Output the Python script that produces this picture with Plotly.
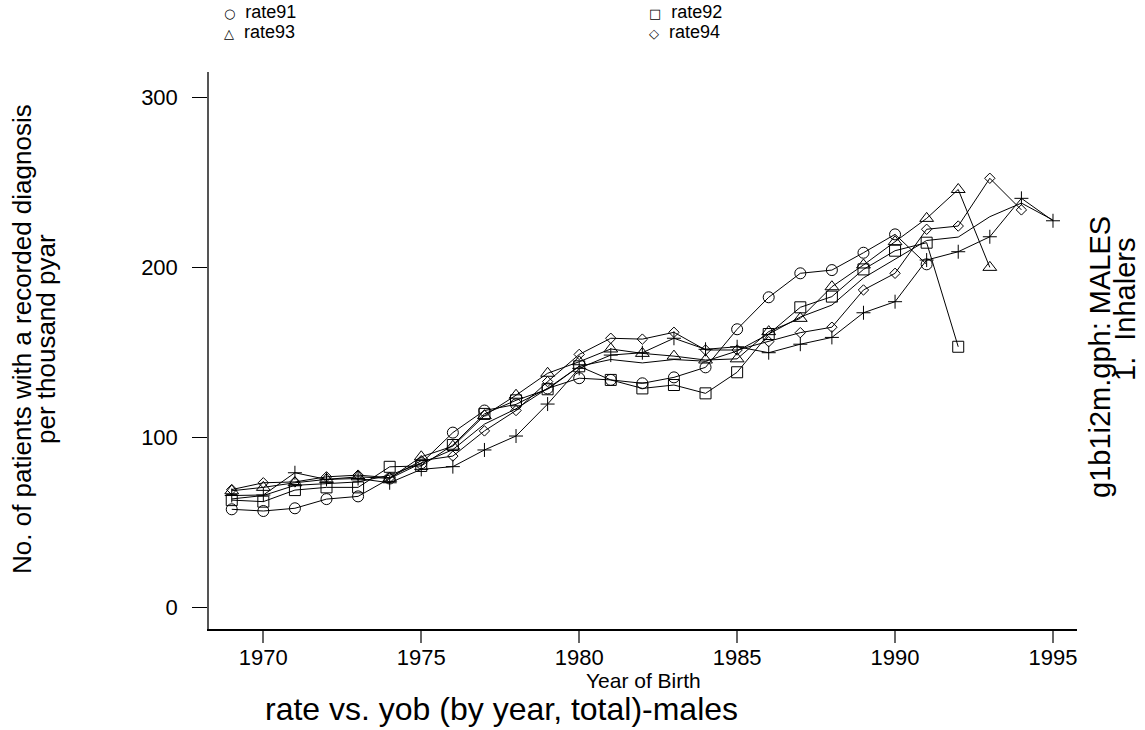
import plotly.graph_objects as go

# ---------------- data ----------------
years = list(range(1969, 1996))
rate91 = [57.9, 56.9, 58.5, 63.9, 65.5, 76.0, 85.0, 103.0, 116.0, 119.6, 129.0, 135.0,
          134.0, 132.0, 135.5, 141.4, 163.8, 182.6, 196.7, 198.6, 208.8, 219.6, 202.0]
rate92 = [63.3, 62.4, 69.2, 70.8, 70.8, 82.9, 83.4, 95.7, 114.0, 122.0, 128.5, 142.0,
          134.0, 129.0, 131.0, 126.1, 138.5, 161.0, 176.7, 183.0, 199.0, 210.0, 214.7, 153.5]
rate93 = [68.8, 70.8, 73.5, 75.5, 77.0, 76.1, 88.8, 95.0, 113.0, 125.0, 137.9, 144.7,
          152.2, 149.6, 148.0, 145.7, 146.4, 162.4, 170.2, 188.8, 201.6, 215.3, 229.0, 246.0, 200.2]
rate94 = [69.5, 73.5, 74.0, 77.0, 78.0, 76.5, 86.5, 89.2, 104.0, 116.0, 133.0, 149.0,
          158.5, 158.0, 162.0, 151.6, 151.6, 156.5, 161.8, 165.0, 186.9, 196.7, 222.6, 224.5, 252.6, 234.0]
rate95 = [66.0, 66.3, 79.4, 75.5, 76.0, 73.5, 81.4, 83.0, 92.8, 101.0, 119.8, 140.8,
          148.6, 150.0, 158.5, 152.0, 153.5, 150.0, 155.0, 159.0, 173.5, 180.0, 204.5, 209.4, 218.2, 240.8, 227.6]
total = [64, 66, 72, 73, 74, 78, 85, 93, 108, 117, 129, 142, 146, 144, 146, 145, 151,
         161, 171, 178, 194, 205, 216, 218, 230, 238, 228]

x_ticks = [1970, 1975, 1980, 1985, 1990, 1995]
y_ticks = [0, 100, 200, 300]
legend_names = ["rate91", "rate92", "rate93", "rate94"]
legend_symbols = ["○", "□", "△", "◇"]

# ---------------- layout geometry (page pixels) ----------------
W, H = 1145, 730
PL, PR, PT, PB = 209, 1077, 72, 629          # plot area
L, T, R, B = PL, PT, W - PR, H - PB
PW, PH = W - L - R, H - T - B


def px(xp):
    return (xp - L) / PW


def py(yp):
    return 1 - (yp - T) / PH


FONT = "Liberation Sans, Arial, Helvetica, sans-serif"

series = [
    (rate91, "circle-open", 11),
    (rate92, "square-open", 11),
    (rate93, "triangle-up-open", 12),
    (rate94, "diamond-open", 8),
    (rate95, "cross-thin-open", 10),
]

fig = go.Figure()
for vals, sym, size in series:
    fig.add_trace(go.Scatter(
        x=years[:len(vals)], y=vals, mode="lines+markers",
        line=dict(color="black", width=1),
        marker=dict(symbol=sym, size=size, color="black",
                    line=dict(color="#222", width=1)),
        showlegend=False))
fig.add_trace(go.Scatter(x=years[:len(total)], y=total, mode="lines",
                         line=dict(color="black", width=1), showlegend=False))


def note(xp, yp, text, size, angle=0, xanchor="center", family=FONT):
    return dict(x=px(xp), y=py(yp), xref="paper", yref="paper", text=text,
                textangle=angle, showarrow=False, xanchor=xanchor,
                yanchor="middle", borderpad=0,
                font=dict(family=family, size=size, color="black"))


ann = []
# legend (two columns): small symbol followed by the series name
leg_pos = [(223, 12), (648, 12), (223, 32), (648, 32)]
for (xp, yp), sym, name in zip(leg_pos, legend_symbols, legend_names):
    ann.append(note(xp, yp,
                    '<span style="font-family:DejaVu Sans;font-size:13px">'
                    + sym + '</span>  ' + name, 18, xanchor="left"))

# y axis title (two lines)
ann.append(note(22, 339, "No. of patients with a recorded diagnosis", 26, -90))
ann.append(note(46, 339, "per thousand pyar", 26, -90))
# right side text
ann.append(note(1100, 357, "g1b1i2m.gph: MALES", 29, -90))
ann.append(note(1125, 310, "1.  Inhalers", 29, -90))
# x title and main title
ann.append(note(643, 680, "Year of Birth", 21))
ann.append(note(264, 709, "rate vs. yob (by year, total)-males", 32, xanchor="left"))

fig.update_layout(
    width=W, height=H,
    margin=dict(l=L, r=R, t=T, b=B, pad=0),
    paper_bgcolor="white", plot_bgcolor="white",
    showlegend=False,
    annotations=ann,
    font=dict(family=FONT, color="black"),
    xaxis=dict(range=[1968.28, 1995.76], tickmode="array", tickvals=x_ticks,
               ticktext=[str(v) for v in x_ticks],
               showgrid=False, zeroline=False, showline=True,
               linecolor="black", linewidth=1.5,
               ticks="outside", ticklen=12, tickwidth=1.5, tickcolor="#666",
               ticklabelstandoff=-4,
               tickfont=dict(family=FONT, size=22, color="black")),
    yaxis=dict(range=[-12.5, 315.1], tickmode="array", tickvals=y_ticks,
               ticktext=[str(v) for v in y_ticks],
               showgrid=False, zeroline=False, showline=True,
               linecolor="#555", linewidth=1.5,
               ticks="outside", ticklen=15, tickwidth=1.2, tickcolor="black",
               ticklabelstandoff=10,
               tickfont=dict(family=FONT, size=22, color="black")),
)

# remove the default 8px page margin so the figure fills the window exactly
fig.write_html("out.html",
               config={"displayModeBar": False},
               post_script="document.body.style.margin='0';"
                           "document.body.style.padding='0';")
